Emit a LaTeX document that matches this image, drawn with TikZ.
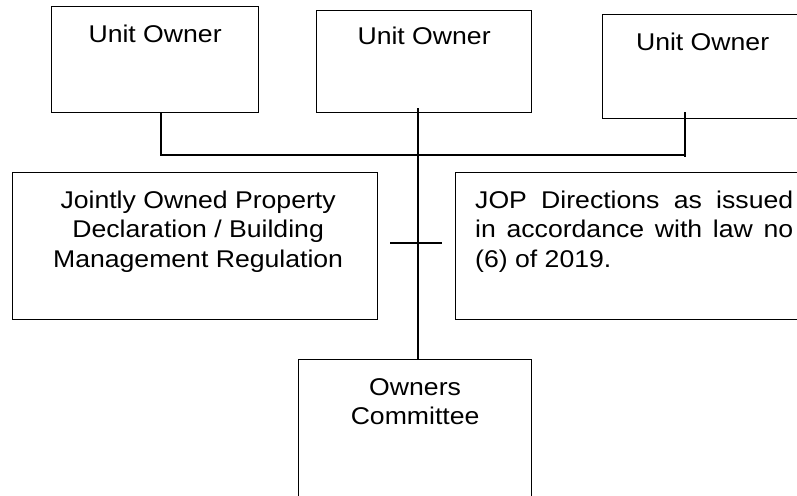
\documentclass[tikz,border=0pt]{standalone}
\usepackage{fontspec}
\setmainfont{Liberation Sans}[FakeStretch=1.1]
\usepackage{tikz}
\usetikzlibrary{positioning}

\begin{document}
\begin{tikzpicture}[x=1pt,y=-1pt]
	\tikzstyle{every node}+=[inner sep=0pt]
	\tikzstyle{box}=[draw, black, line width=1.2pt, anchor=north west]
	\tikzstyle{words}=[anchor=north, font=\fontsize{24.2}{29.3}\selectfont, align=center]
	\useasboundingbox (0,0) rectangle (797,495);
	\clip (0,0) rectangle (797,495);
	% unit owners
	\node [box, minimum width=207pt, minimum height=106pt] (owner1) at (51,6) {};
	\node [box, minimum width=215pt, minimum height=102pt] (owner2) at (316,10) {};
	\node [box, minimum width=200pt, minimum height=104pt] (owner3) at (602,14) {};
	\node [words, below=19pt of owner1.north] {Unit Owner};
	\node [words, below=16.7pt of owner2.north] {Unit Owner};
	\node [words, below=19pt of owner3.north] {Unit Owner};
	% rules
	\node [box, minimum width=365pt, minimum height=147pt] (decl) at (12,172) {};
	\node [box, minimum width=360pt, minimum height=147pt] (dirs) at (455,172) {};
	\node [words, below=18.7pt of decl.north, xshift=3pt] {Jointly Owned Property\\Declaration / Building\\Management Regulation};
	\node [words, anchor=north west, text width=318pt, align=justify] at (475,190.7)
		{\tolerance=9999\hyphenpenalty=10000 JOP Directions as issued\linebreak in accordance with law no\linebreak (6) of 2019.};
	% committee
	\node [box, minimum width=233pt, minimum height=161pt] (committee) at (298,359) {};
	\node [words, below=19pt of committee.north] {Owners\\Committee};
	% connectors
	\coordinate (tee1) at (161,155);
	\coordinate (tee3) at (685,155);
	\coordinate (trunk) at (418,108);
	\coordinate (tickL) at (390,243);
	\coordinate (tickR) at (442,243);
	\draw [line width=1.2pt] (owner1.south -| tee1) -- (tee1) -- (tee3);
	\draw [line width=1.2pt] ([yshift=7pt]owner3.south -| tee3) -- ([yshift=-2pt]tee3);
	\draw [line width=1.2pt] (trunk) -- (trunk |- committee.north);
	\draw [line width=1.2pt] (tickL) -- (tickR);
\end{tikzpicture}
\end{document}
